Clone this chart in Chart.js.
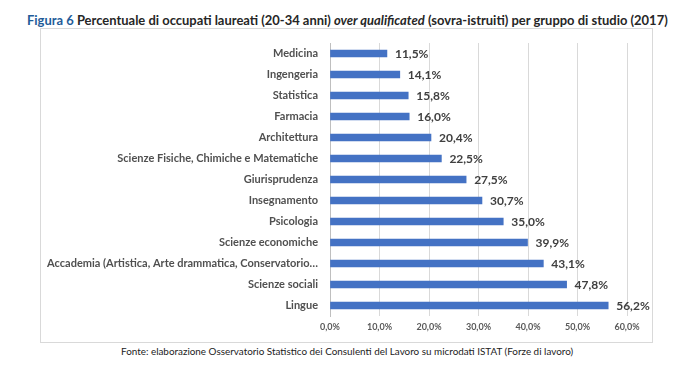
<!DOCTYPE html>
<html><head><meta charset="utf-8">
<script src="https://cdn.jsdelivr.net/npm/chart.js@4"></script>
<style>
html,body{margin:0;padding:0;background:#fff;width:680px;height:370px;overflow:hidden;}
#title{position:absolute;left:27px;top:12px;white-space:nowrap;font-family:Lato,"Open Sans",sans-serif;font-weight:bold;font-size:13px;color:#262626;line-height:16px}
#title .fig{color:#1f5c99}
#box{position:absolute;left:40px;top:28px;width:613px;height:315px;border:1px solid #d9d9d9;box-sizing:border-box}
#wrap{position:absolute;left:40px;top:28px;width:612px;height:314px}
#footer{position:absolute;left:121px;top:344px;white-space:nowrap;font-family:Lato,"Open Sans",sans-serif;font-size:10px;color:#222;line-height:14px}
</style></head>
<body>
<div id="title"><span class="fig">Figura 6</span> Percentuale di occupati laureati (20-34 anni) <i>over qualificated</i> (sovra-istruiti) per gruppo di studio (2017)</div>
<div id="box"></div>
<div id="wrap"><canvas id="c"></canvas></div>
<div id="footer">Fonte: elaborazione Osservatorio Statistico dei Consulenti del Lavoro su microdati ISTAT (Forze di lavoro)</div>
<script>
const categories = ['Medicina','Ingengeria','Statistica','Farmacia','Architettura','Scienze Fisiche, Chimiche e Matematiche','Giurisprudenza','Insegnamento','Psicologia','Scienze economiche','Accademia (Artistica, Arte drammatica, Conservatorio…','Scienze sociali','Lingue'];
const values = [11.5,14.1,15.8,16.0,20.4,22.5,27.5,30.7,35.0,39.9,43.1,47.8,56.2];
const xMin = 0, xMax = 60, xStep = 10;

function fitWidth(id, target){
  const el = document.getElementById(id);
  let fs = parseFloat(getComputedStyle(el).fontSize);
  for(let i=0;i<4;i++){
    const w = el.getBoundingClientRect().width;
    fs = fs*target/w;
    el.style.fontSize = fs+'px';
  }
}
fitWidth('title', 641);
fitWidth('footer', 452);

const fmt = v => v.toFixed(1).replace('.', ',') + '%';

const valueLabels = {
  id:'valueLabels',
  afterDatasetsDraw(chart){
    const ctx = chart.ctx;
    const meta = chart.getDatasetMeta(0);
    ctx.save();
    ctx.font = 'bold 12px Lato, "Open Sans", sans-serif';
    ctx.fillStyle = '#404040';
    ctx.textAlign = 'left';
    ctx.textBaseline = 'middle';
    meta.data.forEach((bar,i)=>{
      ctx.fillText(fmt(values[i]), bar.x + 8, bar.y + 1);
    });
    ctx.restore();
  }
};

new Chart(document.getElementById('c'), {
  type:'bar',
  data:{labels:categories, datasets:[{data:values, backgroundColor:'#4472c4', borderWidth:0, barThickness:7}]},
  options:{
    indexAxis:'y',
    responsive:true, maintainAspectRatio:false, animation:false,
    layout:{padding:{top:15,right:25,left:0,bottom:0}},
    plugins:{legend:{display:false}, tooltip:{enabled:false}},
    scales:{
      x:{min:xMin,max:xMax,
        ticks:{stepSize:xStep, callback:v=>fmt(v), color:'#595959', padding:6,
          font:{family:'Lato, "Open Sans", sans-serif', size:9, weight:'bold'}, maxRotation:0},
        grid:{color:'#d9d9d9', drawTicks:false},
        border:{display:false},
        afterFit(s){s.height=26; s.paddingLeft=0; s.paddingRight=0;}
      },
      y:{
        ticks:{color:'#505050', padding:12, autoSkip:false,
          font:{family:'Lato, "Open Sans", sans-serif', size:11, weight:'bold'}},
        grid:{display:false, drawTicks:false},
        border:{display:true, color:'#bfbfbf'},
        afterFit(s){s.width=290; s.paddingTop=0; s.paddingBottom=0;}
      }
    }
  },
  plugins:[valueLabels]
});
</script>
</body></html>
